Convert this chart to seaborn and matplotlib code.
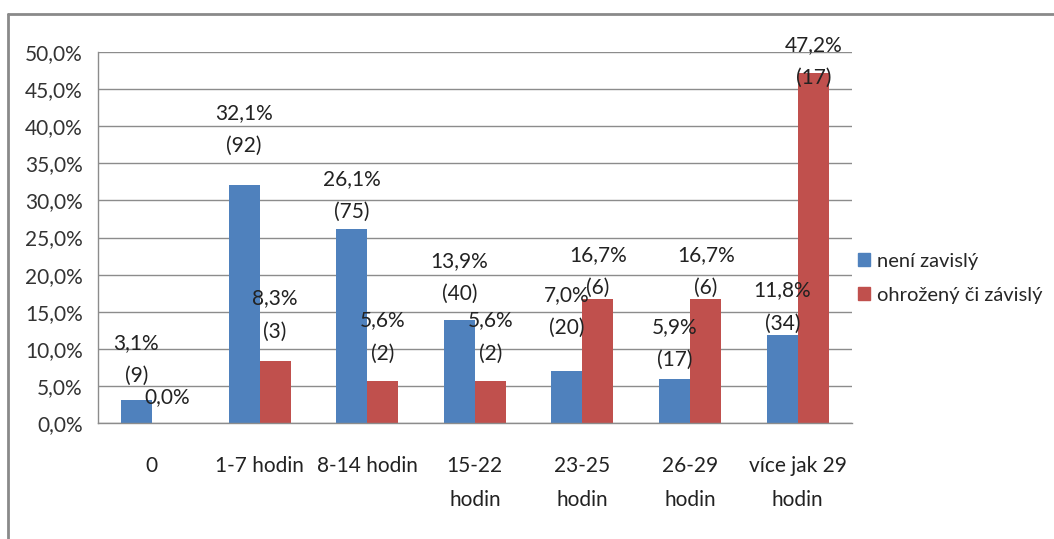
import matplotlib
matplotlib.use("Agg")
import matplotlib.pyplot as plt
import seaborn as sns
import pandas as pd
from matplotlib.lines import Line2D
from matplotlib.ticker import FuncFormatter, MultipleLocator, FixedLocator

categories = ["0", "1-7 hodin", "8-14 hodin", "15-22\nhodin", "23-25\nhodin",
              "26-29\nhodin", "více jak 29\nhodin"]
series = ["není zavislý", "ohrožený či závislý"]
pct_not = [3.1, 32.1, 26.1, 13.9, 7.0, 5.9, 11.8]
pct_risk = [0.0, 8.3, 5.6, 5.6, 16.7, 16.7, 47.2]
n_not = [9, 92, 75, 40, 20, 17, 34]
n_risk = [None, 3, 2, 2, 6, 6, 17]

# label lift above bar top (pixels) as placed in the original chart
lift_not = [57, 72, 50, 59, 76, 52, 45]
lift_risk = [26, 63, 61, 61, 44, 44, 28]

colors = ["#4F81BD", "#C0504D"]
FS = 15

df = pd.DataFrame({
    "kategorie": categories * 2,
    "skupina": [series[0]] * 7 + [series[1]] * 7,
    "procento": pct_not + pct_risk,
})

sns.set_style("white")
plt.rcParams["font.family"] = ["Lato", "DejaVu Sans"]

fig = plt.figure(figsize=(10.54, 5.39), dpi=100)
ax = fig.add_axes([0.093, 0.2152, 0.715, 0.6883])

sns.barplot(data=df, x="kategorie", y="procento", hue="skupina", order=categories,
            hue_order=series, palette=colors, width=0.576, saturation=1,
            errorbar=None, ax=ax, edgecolor="none")

ax.set_ylim(0, 50)
ax.set_xlim(-0.5, 6.5)
ax.yaxis.set_major_locator(MultipleLocator(5))
ax.yaxis.set_major_formatter(FuncFormatter(lambda v, p: f"{v:.1f}%".replace(".", ",")))
ax.grid(axis="y", color="#8c8c8c", linewidth=1)
ax.set_axisbelow(True)
for s in ["top", "right"]:
    ax.spines[s].set_visible(False)
for s in ["left", "bottom"]:
    ax.spines[s].set_color("#8c8c8c")
    ax.spines[s].set_linewidth(1)
ax.set_xlabel("")
ax.set_ylabel("")

ax.tick_params(axis="y", length=5, color="#8c8c8c", labelsize=FS, labelcolor="#333333", pad=6)
ax.tick_params(axis="x", which="major", length=0, labelsize=FS, labelcolor="#222222", pad=24)
ax.xaxis.set_minor_locator(FixedLocator([i - 0.5 for i in range(8)]))
ax.tick_params(axis="x", which="minor", length=6, color="#8c8c8c")
for lbl in ax.get_xticklabels():
    lbl.set_linespacing(1.85)

def put_labels(container, pcts, counts, lifts):
    for bar, p, n, lift in zip(container, pcts, counts, lifts):
        x = bar.get_x() + bar.get_width() / 2
        top = bar.get_height()
        ax.annotate(f"{p:.1f}%".replace(".", ","), xy=(x, top),
                    xytext=(0, lift * 0.72), textcoords="offset points",
                    ha="center", va="center", fontsize=FS, color="#222222")
        if n is not None:
            ax.annotate(f"({n})", xy=(x, top),
                        xytext=(0, (lift - 33) * 0.72), textcoords="offset points",
                        ha="center", va="center", fontsize=FS, color="#222222")

put_labels(ax.containers[0], pct_not, n_not, lift_not)
put_labels(ax.containers[1], pct_risk, n_risk, lift_risk)

handles = [plt.Rectangle((0, 0), 1, 1, color=c) for c in colors]
ax.legend(handles, series, loc="center left", bbox_to_anchor=(0.99, 0.39),
          frameon=False, fontsize=14.5, handlelength=0.6, handleheight=0.6,
          handletextpad=0.35, labelspacing=0.85, borderaxespad=0.3)

# outer chart frame (top and left edges visible)
fig.add_artist(Line2D([8 / 1054, 1.0], [1 - 14 / 539, 1 - 14 / 539],
                      transform=fig.transFigure, color="#8a8a8a", linewidth=2))
fig.add_artist(Line2D([8 / 1054, 8 / 1054], [0.0, 1 - 14 / 539],
                      transform=fig.transFigure, color="#8a8a8a", linewidth=2))

fig.savefig("out.png", dpi=100)
